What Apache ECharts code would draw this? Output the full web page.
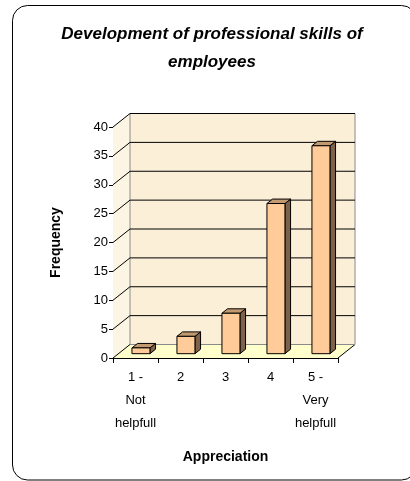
<!DOCTYPE html>
<html>
<head>
<meta charset="utf-8">
<script src="https://cdn.jsdelivr.net/npm/echarts@6/dist/echarts.min.js"></script>
<style>
html,body{margin:0;padding:0;background:#fff;}
#chart{width:410px;height:481px;}
</style>
</head>
<body>
<div id="chart"></div>
<script>
// ---- data ----
var categories = ['1 -\nNot\nhelpfull', '2', '3', '4', '5 -\nVery\nhelpfull'];
var frequencies = [1, 3, 7, 26, 36];
var yTicks = [0, 5, 10, 15, 20, 25, 30, 35, 40];
var titleText = 'Development of professional skills of\nemployees';
var yName = 'Frequency';
var xName = 'Appreciation';

// ---- 3D look constants (style, not data) ----
var DX = 17, DY = -13.5;       // depth of floor / walls
var FRONT = 0.32, DEPTH = 0.33; // bar placement within depth
var HALF_W = 9;

var chart = echarts.init(document.getElementById('chart'), null, {renderer: 'canvas'});
var FONT = '"Liberation Sans", Arial, sans-serif';

function wallsRender(params, api) {
  var cs = params.coordSys;
  var x0 = cs.x, x1 = cs.x + cs.width;
  var yb = api.coord([0, 0])[1];
  var yt = api.coord([0, 40])[1];
  return {
    type: 'group',
    children: [
      {type: 'polygon', shape: {points: [[x0, yb], [x0, yt], [x0 + DX, yt + DY], [x0 + DX, yb + DY]]},
        style: {fill: '#FDF5E4', stroke: null}},
      {type: 'polygon', shape: {points: [[x0 + DX, yt + DY], [x1 + DX, yt + DY], [x1 + DX, yb + DY], [x0 + DX, yb + DY]]},
        style: {fill: '#FBEFD8', stroke: '#8a8a8a', lineWidth: 1}},
      {type: 'polygon', shape: {points: [[x0, yb], [x1, yb], [x1 + DX, yb + DY], [x0 + DX, yb + DY]]},
        style: {fill: '#FFFFCC', stroke: null}},
      {type: 'line', shape: {x1: x1, y1: yb, x2: x1 + DX, y2: yb + DY},
        style: {stroke: '#000', lineWidth: 1}},
      {type: 'line', shape: {x1: x0 + DX, y1: yb + DY, x2: x1 + DX, y2: yb + DY},
        style: {stroke: '#8a8a8a', lineWidth: 1}}
    ]
  };
}

function gridRender(params, api) {
  var cs = params.coordSys;
  var x0 = cs.x, x1 = cs.x + cs.width;
  var v = api.value(0);
  var y = api.coord([0, v])[1];
  var children = [
    {type: 'line', shape: {x1: x0, y1: y, x2: x0 + DX, y2: y + DY}, style: {stroke: '#000', lineWidth: 1}}
  ];
  if (v > 0) {
    children.push({type: 'line', shape: {x1: x0 + DX, y1: y + DY, x2: x1 + DX, y2: y + DY},
      style: {stroke: '#000', lineWidth: 1}});
  }
  return {type: 'group', children: children};
}

function barRender(params, api) {
  var i = api.value(0), v = api.value(1);
  var b = api.coord([i, 0]);
  var t = api.coord([i, v]);
  var ox = FRONT * DX, oy = FRONT * DY;
  var sx = DEPTH * DX, sy = DEPTH * DY;
  var l = b[0] + ox - HALF_W, r = b[0] + ox + HALF_W;
  var yb = b[1] + oy, yt = t[1] + oy;
  var st = {stroke: '#000', lineWidth: 1, lineJoin: 'round'};
  return {
    type: 'group',
    children: [
      {type: 'polygon', shape: {points: [[r, yb], [r, yt], [r + sx, yt + sy], [r + sx, yb + sy]]},
        style: Object.assign({fill: '#7D6249'}, st)},
      {type: 'polygon', shape: {points: [[l, yt], [r, yt], [r + sx, yt + sy], [l + sx, yt + sy]]},
        style: Object.assign({fill: '#C39A70'}, st)},
      {type: 'rect', shape: {x: l, y: yt, width: r - l, height: yb - yt},
        style: Object.assign({fill: '#FFCC99'}, st)}
    ]
  };
}

var option = {
  backgroundColor: '#fff',
  animation: false,
  textStyle: {fontFamily: FONT},
  graphic: [
    {type: 'rect', z: -10, shape: {x: 12.5, y: 5.5, width: 404, height: 474.5, r: 15},
      style: {fill: 'none', stroke: '#000', lineWidth: 1}},
    {type: 'text', x: 212, y: 20, style: {
      text: titleText, align: 'center', verticalAlign: 'top',
      font: 'italic bold 17px ' + FONT, lineHeight: 28, fill: '#000'}}
  ],
  grid: {left: 113, top: 127, width: 225, height: 231},
  xAxis: {
    type: 'category',
    data: categories,
    name: xName,
    nameLocation: 'middle',
    nameGap: 92,
    nameTextStyle: {fontSize: 14, fontWeight: 'bold', color: '#000', fontFamily: FONT},
    axisLine: {show: true, lineStyle: {color: '#000', width: 1}},
    axisTick: {show: true, length: 5, lineStyle: {color: '#000'}},
    axisLabel: {fontSize: 13, color: '#000', lineHeight: 23, margin: 8, interval: 0, fontFamily: FONT},
    splitLine: {show: false}
  },
  yAxis: {
    type: 'value',
    min: 0, max: 40, interval: 5,
    name: yName,
    nameLocation: 'middle',
    nameRotate: 90,
    nameGap: 50,
    nameTextStyle: {fontSize: 14, fontWeight: 'bold', color: '#000', fontFamily: FONT},
    axisLine: {show: true, lineStyle: {color: '#000', width: 1}},
    axisTick: {show: true, length: 4, lineStyle: {color: '#000'}},
    axisLabel: {fontSize: 13, color: '#000', margin: 5, fontFamily: FONT},
    splitLine: {show: false}
  },
  series: [
    {type: 'custom', name: 'walls', z: 1, clip: false, silent: true,
      renderItem: wallsRender, data: [[0]]},
    {type: 'custom', name: 'gridlines', z: 2, clip: false, silent: true,
      renderItem: gridRender, data: yTicks.map(function (v) { return [v]; })},
    {type: 'custom', name: 'Frequency', z: 3, clip: false,
      renderItem: barRender,
      encode: {x: 0, y: 1},
      data: frequencies.map(function (v, i) { return [i, v]; })}
  ]
};
chart.setOption(option);
</script>
</body>
</html>
